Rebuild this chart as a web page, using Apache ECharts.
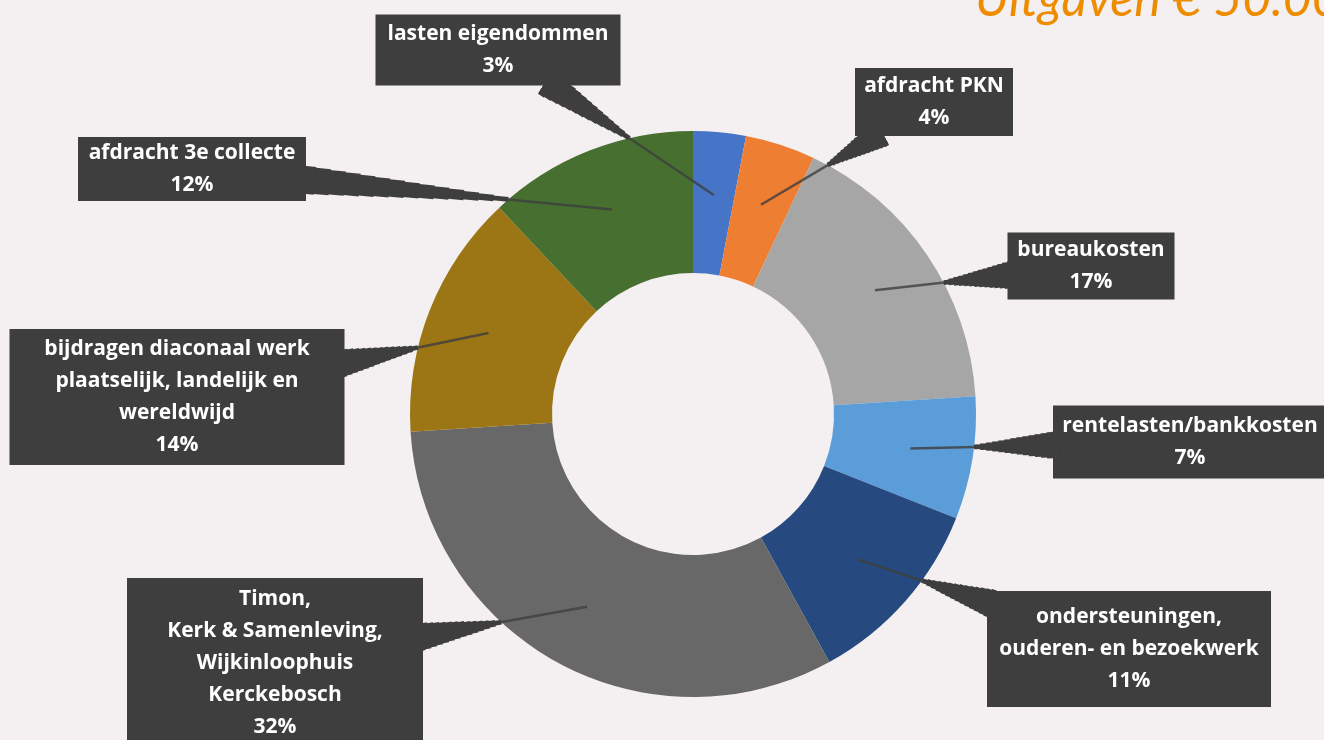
<!DOCTYPE html>
<html>
<head>
<meta charset="utf-8">
<title>Uitgaven</title>
<script src="https://cdn.jsdelivr.net/npm/echarts@6/dist/echarts.min.js"></script>
<style>
  html, body { margin: 0; padding: 0; background: #f4eff1; }
  #chart { width: 1324px; height: 740px; }
</style>
</head>
<body>
<div id="chart"></div>
<script>
// uitgaven, met de klok mee vanaf boven
const categories = [
  'lasten eigendommen',
  'afdracht PKN',
  'bureaukosten',
  'rentelasten/bankkosten',
  'ondersteuningen,\nouderen- en bezoekwerk',
  'Timon,\nKerk & Samenleving,\nWijkinloophuis\nKerckebosch',
  'bijdragen diaconaal werk\nplaatselijk, landelijk en\nwereldwijd',
  'afdracht 3e collecte'
]
const percentages = [3, 4, 17, 7, 11, 32, 14, 12]

const colors = ['#4674c6', '#ee7e32', '#a6a6a6', '#5b9dd8', '#264a80', '#686868', '#9c7514', '#477030']

// label boxes: middelpunt en afmetingen (px)
const boxCenters = [[498, 50], [934, 102], [1091, 266], [1190, 442], [1129, 649], [275, 663], [177, 397], [192, 169]]
const boxSizes = [[245, 71], [158, 68], [167, 67], [274, 73], [284, 116], [296, 170], [335, 136], [228, 62]]

const cx = 693, cy = 414
const innerR = 141, outerR = 283, tipR = 220
const boxColor = '#3e3e3e'
const lineH = 32

// wigvormige pijltjes: lijnen op elkaar, steeds breder naar de box toe
// step -1 = dunne lijn vanaf de punt in het segment
const nSteps = 14
const stepIds = [-1]
for (let s = 0; s < nSteps; s++) stepIds.push(s)

const total = percentages.reduce((a, b) => a + b, 0)
const midAngles = []
let acc = 0
percentages.forEach(v => {
  midAngles.push((acc + v / 2) / total * Math.PI * 2)
  acc += v
})

const chart = echarts.init(document.getElementById('chart'))

const stepWidth = (s) => s < 0 ? 2.5 : 3 + 25 * (s + 1) / nSteps

const makeLayout = (s) => (params) => {
  const i = params.dataIndex
  const [bx, by] = boxCenters[i]
  const [bw, bh] = boxSizes[i]
  const a = midAngles[i]
  const tip = [cx + tipR * Math.sin(a), cy - tipR * Math.cos(a)]
  const dx = tip[0] - bx, dy = tip[1] - by
  const t = Math.min(bw / 2 / Math.abs(dx), bh / 2 / Math.abs(dy))
  const len = Math.hypot(dx, dy)
  const tb = t - 6 / len
  const base = [bx + dx * tb, by + dy * tb]
  // waar de lijn punt->box de buitenrand van de ring kruist
  const vx = base[0] - tip[0], vy = base[1] - tip[1]
  const ox = tip[0] - cx, oy = tip[1] - cy
  const qa = vx * vx + vy * vy, qb = 2 * (ox * vx + oy * vy), qc = ox * ox + oy * oy - outerR * outerR
  const ue = (-qb + Math.sqrt(qb * qb - 4 * qa * qc)) / (2 * qa)
  const from = s < 0 ? 0 : ue + (1 - ue) * s / nSteps
  const start = [tip[0] + vx * from, tip[1] + vy * from]
  const mid = [(start[0] + base[0]) / 2, (start[1] + base[1]) / 2]
  return {
    x: bx,
    y: by,
    align: 'center',
    verticalAlign: 'middle',
    labelLinePoints: [start, mid, base]
  }
}

const makeData = (visible) => categories.map((name, i) => {
  const nLines = name.split('\n').length + 1
  const padV = Math.max(0, (boxSizes[i][1] - nLines * lineH) / 2)
  return {
    name: name,
    value: percentages[i],
    itemStyle: {color: visible ? colors[i] : 'rgba(0,0,0,0)'},
    label: {
      width: boxSizes[i][0],
      padding: [padV, 0],
      backgroundColor: visible ? boxColor : 'transparent',
      color: visible ? '#ffffff' : 'rgba(0,0,0,0)'
    }
  }
})

const baseSeries = (s, visible) => ({
  type: 'pie',
  z: visible ? 2 : 3,
  center: [cx, cy],
  radius: [innerR, outerR],
  startAngle: 90,
  clockwise: true,
  avoidLabelOverlap: false,
  silent: !visible,
  emphasis: {disabled: true},
  label: {
    show: true,
    position: 'outside',
    formatter: '{b}\n{c}%',
    fontFamily: 'Open Sans',
    fontWeight: 'bold',
    fontSize: 21,
    lineHeight: lineH,
    align: 'center',
    overflow: 'none'
  },
  labelLine: {
    show: !visible,
    length: 10,
    length2: 10,
    lineStyle: {color: boxColor, width: stepWidth(s), cap: 'butt', opacity: s < 0 ? 0.8 : 1}
  },
  labelLayout: makeLayout(s),
  data: makeData(visible)
})

chart.setOption({
  backgroundColor: '#f4eff1',
  animation: false,
  title: {
    text: 'Uitgaven € 50.000',
    left: 970,
    top: -30,
    textStyle: {
      fontFamily: 'Lato',
      fontStyle: 'italic',
      fontWeight: 'normal',
      fontSize: 50,
      color: '#ee8c00'
    }
  },
  series: [baseSeries(null, true)].concat(stepIds.map(s => baseSeries(s, false)))
})
</script>
</body>
</html>
